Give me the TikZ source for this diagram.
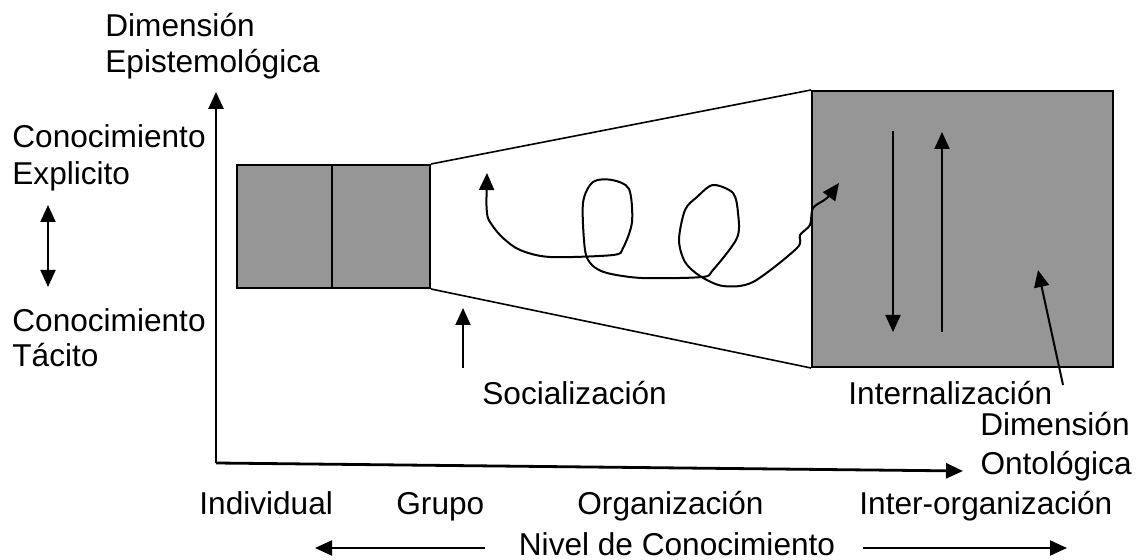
\documentclass[tikz,border=0pt]{standalone}
\usepackage{fontspec}
\setmainfont{Liberation Sans}
\usetikzlibrary{arrows.meta}
\definecolor{boxgray}{RGB}{150,150,150}
\tikzset{
  etiq/.style={anchor=base west,inner sep=0pt},
  flecha/.style={line width=1pt,-{Triangle[length=8.5pt,width=7.5pt]}},
  cuadro/.style={draw,fill=boxgray,line width=1pt,inner sep=0pt}
}

\begin{document}
\begin{tikzpicture}[x=0.5pt,y=-0.5pt,font=\fontsize{15.8}{18}\selectfont]
\useasboundingbox (0,0) rectangle (1145,560);
% ejes
\coordinate (o) at (216,463);
\coordinate (ytip) at (216,92);
\coordinate (xtip) at (963,471);
\draw[flecha,line width=1.4pt](o)--(ytip);
\draw[flecha,line width=1.4pt](o)--(xtip);
% cuadros
\node[cuadro,minimum width=47.5pt,minimum height=61.5pt](ind) at(284.5,226.5){};
\node[cuadro,minimum width=49pt,minimum height=61.5pt](grp) at(381,226.5){};
\node[cuadro,minimum width=150.5pt,minimum height=138pt](org) at(962.5,229){};
\draw[line width=0.8pt](grp.north east)--(org.north west);
\draw[line width=0.8pt](grp.south east)--(org.south west);
% flechas internas
\coordinate (ab1) at (893,131);
\coordinate (ab2) at (893,332);
\coordinate (ar1) at (942,332);
\coordinate (ar2) at (942,132);
\draw[flecha](ab1)--(ab2);
\draw[flecha](ar1)--(ar2);
% espiral
\draw[line width=1pt,{Triangle[length=8.5pt,width=7.5pt]}-{Triangle[length=8.5pt,width=7.5pt]}]
  plot[smooth,tension=0.5] coordinates{(487,173) (487,213) (492,225) (503,238) (520,250)
  (550,257) (613,255) (623,248) (632,222) (629,189) (612,180) (593,182) (583,203)
  (585,250) (592,265) (607,273) (642,278) (702,277) (713,270) (737,238) (738,213)
  (733,193) (713,185) (697,197) (685,210) (679,240) (685,262) (700,276) (723,286)
  (753,282) (797,248) (800,235) (810,225) (813,208) (827,198) (839,183)};
% textos izquierda
\node[etiq](dim1) at(105,37){Dimensión};
\node[etiq](epis) at(105,73){Epistemológica};
\node[etiq](con1) at(12,148){Conocimiento};
\node[etiq](expl) at(12,185){Explicito};
\node[etiq](con2) at(12,332){Conocimiento};
\node[etiq](tac) at(12,367){Tácito};
\coordinate (ex) at (48,205);
\coordinate (ta) at (48,287);
\draw[flecha,{Triangle[length=8.5pt,width=7.5pt]}-{Triangle[length=8.5pt,width=7.5pt]}](ex)--(ta);
% socializacion / internalizacion
\node[etiq](soc) at(482,405){Socialización};
\coordinate (s1) at (463,368);
\coordinate (s2) at (463,308);
\draw[flecha](s1)--(s2);
\node[etiq](inte) at(848,405){Internalización};
\node[anchor=base east,inner sep=0pt](dim2) at(1130,436){Dimensión};
\node[anchor=base east,inner sep=0pt](onto) at(1132,475){Ontológica};
\coordinate (d1) at (1063,385);
\coordinate (d2) at (1038,270);
\draw[flecha](d1)--(d2);
% niveles
\node[etiq](indiv) at(199,515){Individual};
\node[etiq](grupo) at(396,515){Grupo};
\node[etiq](organ) at(577,515){Organización};
\node[etiq](inter) at(859,515){Inter-organización};
\node[anchor=base,inner sep=0pt](nivel) at(677,555){Nivel de Conocimiento};
\coordinate (n1) at (485,548);
\coordinate (n2) at (315,548);
\coordinate (n3) at (863,548);
\coordinate (n4) at (1067,548);
\draw[flecha](n1)--(n2);
\draw[flecha](n3)--(n4);
\end{tikzpicture}
\end{document}
